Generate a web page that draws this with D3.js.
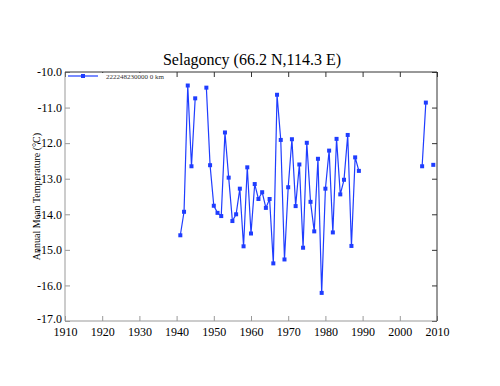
<!DOCTYPE html>
<html>
<head>
<meta charset="utf-8">
<script src="https://cdn.jsdelivr.net/npm/d3@7"></script>
<style>
  body { margin: 0; background: #fff; }
  svg text { font-family: "Liberation Serif", "DejaVu Serif", serif; }
</style>
</head>
<body>
<svg id="chart"></svg>
<script>
// station record, null = missing year
const years = [1941, 1942, 1943, 1944, 1945, 1946, 1947, 1948, 1949, 1950,
    1951, 1952, 1953, 1954, 1955, 1956, 1957, 1958, 1959, 1960,
    1961, 1962, 1963, 1964, 1965, 1966, 1967, 1968, 1969, 1970,
    1971, 1972, 1973, 1974, 1975, 1976, 1977, 1978, 1979, 1980,
    1981, 1982, 1983, 1984, 1985, 1986, 1987, 1988, 1989, 1990,
    2005, 2006, 2007, 2008, 2009];
const temps = [-14.59, -13.93, -10.38, -12.65, -10.74, null, null, -10.44, -12.62, -13.76,
    -13.96, -14.05, -11.70, -12.97, -14.19, -14.00, -13.28, -14.90, -12.68, -14.54,
    -13.15, -13.57, -13.38, -13.82, -13.57, -15.38, -10.64, -11.91, -15.27, -13.24,
    -11.89, -13.77, -12.60, -14.94, -11.99, -13.65, -14.48, -12.44, -16.21, -13.28,
    -12.21, -14.51, -11.88, -13.44, -13.03, -11.77, -14.89, -12.40, -12.78, null,
    null, -12.65, -10.86, null, -12.61];
const xTicks = [1910, 1920, 1930, 1940, 1950, 1960, 1970, 1980, 1990, 2000, 2010];
const yTicks = [-10, -11, -12, -13, -14, -15, -16, -17];
const title = "Selagoncy (66.2 N,114.3 E)";
const yLabel = "Annual Mean Temperature (°C)";
const legendLabel = "222248230000 0 km";

const width = 500, height = 386;
const margin = { top: 72, right: 63, bottom: 65, left: 65 };
const lineColor = "#1f3dff";

const svg = d3.select("#chart").attr("width", width).attr("height", height);

const x = d3.scaleLinear().domain([1910, 2010]).range([margin.left, width - margin.right]);
const y = d3.scaleLinear().domain([-17, -10]).range([height - margin.bottom, margin.top]);

const data = years.map((yr, i) => ({ year: yr, t: temps[i] }));

const x0 = x.range()[0], x1 = x.range()[1], y0 = y.range()[0], y1 = y.range()[1];

// axes with inward ticks (plain hyphen for negatives, like the original)
const fmt = d => d3.format(".1f")(d).replace("\u2212", "-");
const bottomAxis = svg.append("g")
    .attr("transform", `translate(0,${y0})`)
    .call(d3.axisBottom(x).tickValues(xTicks).tickFormat(d3.format("d")).tickSizeInner(-5).tickSizeOuter(0).tickPadding(6));
const leftAxis = svg.append("g")
    .attr("transform", `translate(${x0},0)`)
    .call(d3.axisLeft(y).tickValues(yTicks).tickFormat(fmt).tickSizeInner(-5).tickSizeOuter(0).tickPadding(3));
const topAxis = svg.append("g")
    .attr("transform", `translate(0,${y1})`)
    .call(d3.axisTop(x).tickValues(xTicks).tickFormat("").tickSizeInner(-5).tickSizeOuter(0));
const rightAxis = svg.append("g")
    .attr("transform", `translate(${x1},0)`)
    .call(d3.axisRight(y).tickValues(yTicks).tickFormat("").tickSizeInner(-5).tickSizeOuter(0));

[bottomAxis, leftAxis, topAxis, rightAxis].forEach(g => {
    g.select(".domain").remove();
    g.attr("font-family", null);
    g.selectAll("text").style("font-family", "'Liberation Serif', serif").attr("font-size", 12).attr("fill", "#000");
});
// keep the lowest y label clear of "1910"
leftAxis.selectAll(".tick text").filter(d => d === -17).attr("dy", "0.1em");
bottomAxis.selectAll("line").attr("stroke", "#999");
leftAxis.selectAll("line").attr("stroke", "#999");
topAxis.selectAll("line").attr("stroke", "#333");
rightAxis.selectAll("line").attr("stroke", "#333");

// frame
svg.append("line").attr("x1", x0).attr("x2", x0).attr("y1", y0).attr("y2", y1).attr("stroke", "#999");
svg.append("line").attr("x1", x0).attr("x2", x1).attr("y1", y0).attr("y2", y0).attr("stroke", "#999");
svg.append("line").attr("x1", x0).attr("x2", x1).attr("y1", y1).attr("y2", y1).attr("stroke", "#333");
svg.append("line").attr("x1", x1).attr("x2", x1).attr("y1", y0).attr("y2", y1).attr("stroke", "#333");

// series
const line = d3.line()
    .defined(d => d.t !== null)
    .x(d => x(d.year))
    .y(d => y(d.t));

svg.append("path")
    .datum(data)
    .attr("fill", "none")
    .attr("stroke", lineColor)
    .attr("stroke-width", 1.2)
    .attr("d", line);

svg.append("g").selectAll("rect")
    .data(data.filter(d => d.t !== null))
    .join("rect")
    .attr("x", d => x(d.year) - 2)
    .attr("y", d => y(d.t) - 2)
    .attr("width", 4)
    .attr("height", 4)
    .attr("fill", lineColor);

// title and axis label
svg.append("text")
    .attr("x", (x0 + x1) / 2 + 1)
    .attr("y", 65)
    .attr("text-anchor", "middle")
    .attr("font-size", 16)
    .text(title);

svg.append("text")
    .attr("transform", `translate(40,${(y0 + y1) / 2}) rotate(-90)`)
    .attr("text-anchor", "middle")
    .attr("font-size", 10)
    .text(yLabel);

// legend box (white, hides the top ticks under it)
const legend = svg.append("g").attr("transform", `translate(${x0 + 1},${y1 + 1})`);
legend.append("rect").attr("width", 100).attr("height", 7).attr("fill", "#fff");
legend.append("line").attr("x1", 2).attr("x2", 32).attr("y1", 3).attr("y2", 3).attr("stroke", lineColor).attr("stroke-width", 1.2);
legend.append("rect").attr("x", 15).attr("y", 1).attr("width", 4).attr("height", 4).attr("fill", lineColor);
legend.append("text").attr("x", 40).attr("y", 5.5).attr("font-size", 7).attr("fill", "#333").text(legendLabel);
</script>
</body>
</html>
